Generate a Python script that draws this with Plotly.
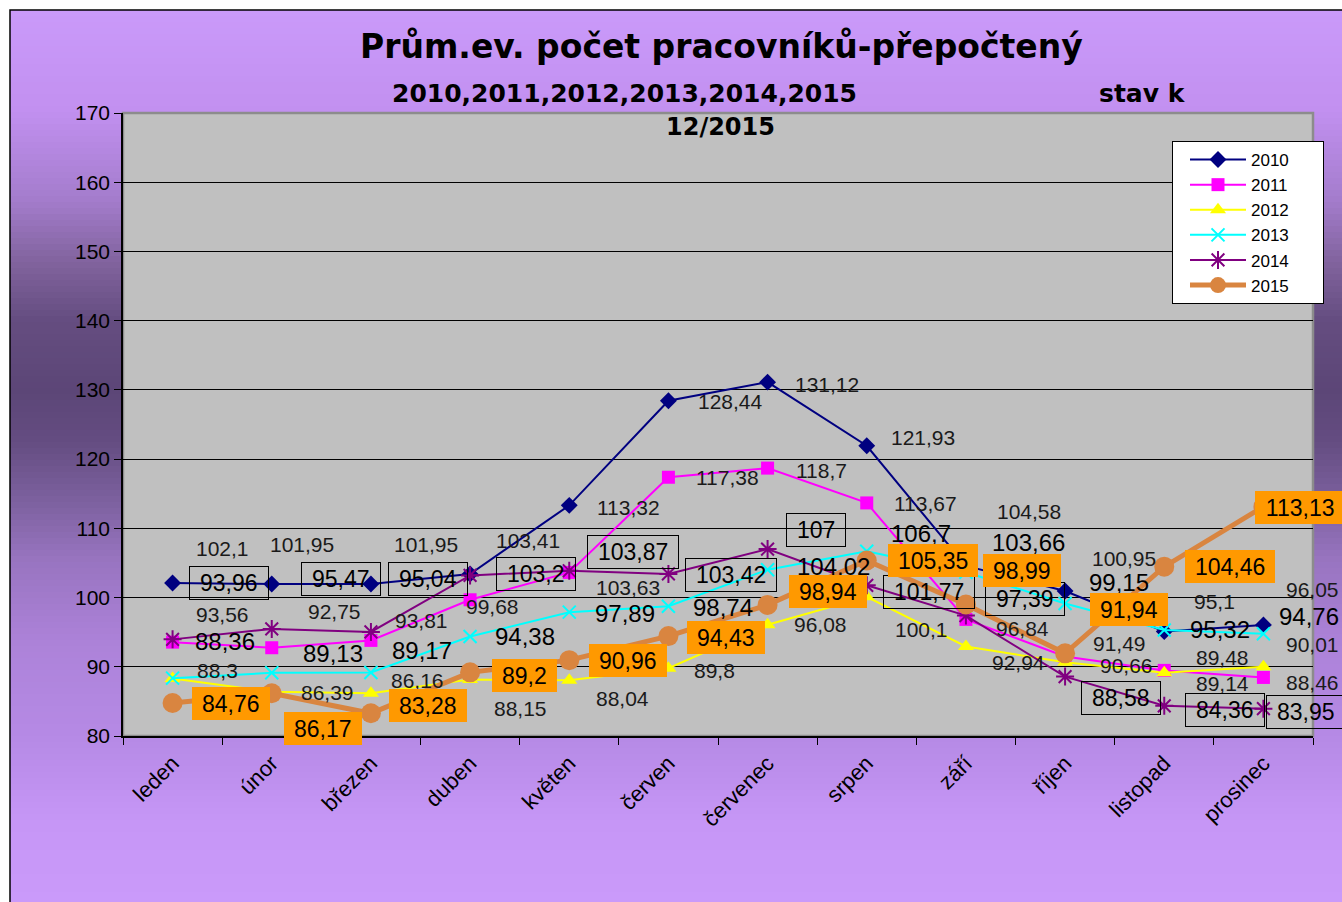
import plotly.graph_objects as go

# ---------------- data ----------------
months = ["leden", "únor", "březen", "duben", "květen", "červen",
          "červenec", "srpen", "září", "říjen", "listopad", "prosinec"]
years = ["2010", "2011", "2012", "2013", "2014", "2015"]

v2010 = [102.1, 101.95, 101.95, 103.41, 113.32, 128.44, 131.12, 121.93, 104.58, 100.95, 95.1, 96.05]
v2011 = [93.56, 92.75, 93.81, 99.68, 103.63, 117.38, 118.7, 113.67, 96.84, 91.49, 89.48, 88.46]
v2012 = [88.3, 86.39, 86.16, 88.15, 88.04, 89.8, 96.08, 100.1, 92.94, 90.66, 89.14, 90.01]
v2013 = [88.36, 89.13, 89.17, 94.38, 97.89, 98.74, 104.02, 106.7, 103.66, 99.15, 95.32, 94.76]
v2014 = [93.96, 95.47, 95.04, 103.2, 103.87, 103.42, 107, 101.77, 97.39, 88.58, 84.36, 83.95]
v2015 = [84.76, 86.17, 83.28, 89.2, 90.96, 94.43, 98.94, 105.35, 98.99, 91.94, 104.46, 113.13]

title_text = "Prům.ev. počet pracovníků-přepočtený"
subtitle_text = "2010,2011,2012,2013,2014,2015"
state_text = "stav k"
date_text = "12/2015"

# ---------------- label offsets (screen px: dx right, dy down) ----------------
off2010 = [(50, -35), (30, -40), (55, -40), (58, -33), (59, 2), (62, 1), (59, 2), (56, -8), (63, -54), (59, -32), (50, -30), (49, -35)]
off2011 = [(50, -28), (63, -36), (51, -20), (22, 7), (59, 15), (59, 0), (54, 2), (59, 1), (57, 9), (54, -13), (58, -13), (49, 5)]
off2012 = [(45, -8), (56, 1), (47, -13), (50, 29), (53, 18), (46, 2), (53, 0), (55, 33), (53, 16), (61, 3), (58, 11), (49, -22)]
off2013 = [(52, -37), (61, -19), (51, -22), (55, 0), (56, 1), (55, 1), (66, -3), (54, -18), (63, -30), (54, -21), (56, 0), (46, -17)]
off2014 = [(56, -56), (69, -50), (57, -53), (66, -1), (64, -19), (63, 1), (48, -19), (62, 7), (59, -17), (56, 21), (61, 4), (43, 3)]
off2015 = [(58, 0), (51, 35), (57, -8), (54, 3), (59, 0), (58, 1), (60, -13), (66, 0), (56, -34), (64, -44), (66, 0), (37, 1)]

# ---------------- geometry helpers ----------------
W, H = 1342, 902
L, R, T, B = 123, 1313, 113, 736
ML, MR, MT, MB = L, W - R, T, H - B


def px(x):
    return (x - L) / (R - L)


def py(y):
    return (B - y) / (B - T)


def fmt(v):
    return ("%g" % v).replace(".", ",")


def hex2rgb(h):
    h = h.lstrip("#")
    return tuple(int(h[i:i + 2], 16) for i in (0, 2, 4))


grad_stops = [(10, "#CA9AFA"), (110, "#C290F0"), (200, "#A47CCC"), (260, "#82649F"),
              (320, "#654D80"), (390, "#5C4677"), (440, "#644C81"), (500, "#7C609E"),
              (560, "#9874C0"), (640, "#AC82D8"), (740, "#B68AE6"), (820, "#C696F6"),
              (902, "#CA9AFA")]


def grad_color(y):
    for (y0, c0), (y1, c1) in zip(grad_stops[:-1], grad_stops[1:]):
        if y0 <= y <= y1:
            t = (y - y0) / (y1 - y0)
            a, b = hex2rgb(c0), hex2rgb(c1)
            return "rgb(%d,%d,%d)" % tuple(round(a[i] + (b[i] - a[i]) * t) for i in range(3))
    return grad_stops[-1][1]


shapes = []
step = 6
y = 10
while y < H:
    y2 = min(y + step, H + 2)
    shapes.append(dict(type="rect", xref="paper", yref="paper", layer="below",
                       x0=px(10), x1=px(W + 2), y0=py(y), y1=py(y2 + 0.5),
                       fillcolor=grad_color(y + step / 2), line=dict(width=0)))
    y += step
# chart border
shapes.append(dict(type="rect", xref="paper", yref="paper", layer="below",
                   x0=px(10), x1=px(W + 5), y0=py(10), y1=py(H + 5),
                   fillcolor="rgba(0,0,0,0)", line=dict(color="black", width=1.5)))
# plot area
shapes.append(dict(type="rect", xref="paper", yref="paper", layer="below",
                   x0=0, x1=1, y0=0, y1=1, fillcolor="#C0C0C0",
                   line=dict(color="#8C8C8C", width=2.5)))

# ---------------- traces ----------------
fig = go.Figure()
specs = [
    ("2010", v2010, "#000080", dict(symbol="diamond", size=13, color="#000080"), 2),
    ("2011", v2011, "#FF00FF", dict(symbol="square", size=13, color="#FF00FF"), 2),
    ("2012", v2012, "#FFFF00", dict(symbol="triangle-up", size=14, color="#FFFF00"), 2),
    ("2013", v2013, "#00FFFF", dict(symbol="x-thin", size=13, color="#00FFFF",
                                     line=dict(color="#00FFFF", width=2)), 2),
    ("2014", v2014, "#800080", dict(symbol="asterisk", size=15, color="#800080",
                                     line=dict(color="#800080", width=2)), 2),
    ("2015", v2015, "#D98540", dict(symbol="circle", size=20, color="#D98540"), 5),
]
NB = "\u00a0"
for name, vals, col, mk, lw in specs:
    fig.add_trace(go.Scatter(x=months, y=vals, name=name + NB * 6, mode="lines+markers",
                             line=dict(color=col, width=lw), marker=mk, cliponaxis=False))

# ---------------- data labels ----------------
LAB = "Liberation Sans, Arial, sans-serif"
annotations = []


def text_w(s, size):
    return sum(0.556 * size if ch.isdigit() else 0.278 * size for ch in s)


def add_labels(vals, offs, kind):
    for m, v, (dx, dy) in zip(months, vals, offs):
        s = fmt(v)
        a = dict(x=m, y=v, xref="x", yref="y", text=s, showarrow=False,
                 xanchor="center", yanchor="middle", xshift=dx, yshift=-dy)
        if kind == "plain":
            a["font"] = dict(family=LAB, size=21, color="#1a1a1a")
        elif kind == "big":
            a["font"] = dict(family=LAB, size=24, color="black")
        elif kind == "box":
            a["font"] = dict(family=LAB, size=23, color="black")
            a.update(width=text_w(s, 23) + 20, height=32, bordercolor="black",
                     borderwidth=1, borderpad=0, bgcolor="rgba(0,0,0,0)")
        elif kind == "orange":
            a["font"] = dict(family=LAB, size=23, color="black")
            a.update(width=text_w(s, 23) + 20, height=33, bgcolor="#FF9900",
                     borderwidth=0, borderpad=0)
        annotations.append(a)


add_labels(v2010, off2010, "plain")
add_labels(v2011, off2011, "plain")
add_labels(v2012, off2012, "plain")
add_labels(v2013, off2013, "big")
add_labels(v2014, off2014, "box")
add_labels(v2015, off2015, "orange")

# ---------------- titles ----------------
TF = "DejaVu Sans, sans-serif"
annotations += [
    dict(text="<b>%s</b>" % title_text, xref="paper", yref="paper", x=px(721), y=py(47),
         xanchor="center", yanchor="middle", showarrow=False,
         font=dict(family=TF, size=33, color="black")),
    dict(text="<b>%s</b>" % subtitle_text, xref="paper", yref="paper", x=px(624), y=py(93),
         xanchor="center", yanchor="middle", showarrow=False,
         font=dict(family=TF, size=25, color="black")),
    dict(text="<b>%s</b>" % state_text, xref="paper", yref="paper", x=px(1142), y=py(93),
         xanchor="center", yanchor="middle", showarrow=False,
         font=dict(family=TF, size=25, color="black")),
    dict(text="<b>%s</b>" % date_text, xref="paper", yref="paper", x=px(720), y=py(127),
         xanchor="center", yanchor="middle", showarrow=False,
         font=dict(family=TF, size=24, color="black")),
]

fig.update_layout(
    width=W, height=H,
    margin=dict(l=ML, r=MR, t=MT, b=MB, pad=0),
    paper_bgcolor="white", plot_bgcolor="#C0C0C0",
    shapes=shapes, annotations=annotations,
    showlegend=True,
    legend=dict(x=px(1172), y=py(141), xanchor="left", yanchor="top",
                bgcolor="white", bordercolor="black", borderwidth=1,
                font=dict(family=LAB, size=17, color="black"),
                itemwidth=56, indentation=12, tracegroupgap=0),
    xaxis=dict(type="category", categoryorder="array", categoryarray=months,
               range=[-0.5, 11.5], tickson="boundaries", ticks="outside", ticklen=7,
               tickcolor="black", showline=True, linecolor="black", linewidth=1.5,
               showgrid=False, tickangle=-45, ticklabelstandoff=4,
               tickfont=dict(family=LAB, size=22, color="black")),
    yaxis=dict(range=[80, 170], dtick=10, ticks="outside", ticklen=7, tickcolor="black",
               showline=True, linecolor="black", linewidth=1.5, showgrid=True,
               gridcolor="black", gridwidth=1, zeroline=False,
               tickfont=dict(family=LAB, size=21, color="black")),
)

fig.write_html("out.html", config={"displayModeBar": False},
               post_script="document.body.style.margin='0';")
